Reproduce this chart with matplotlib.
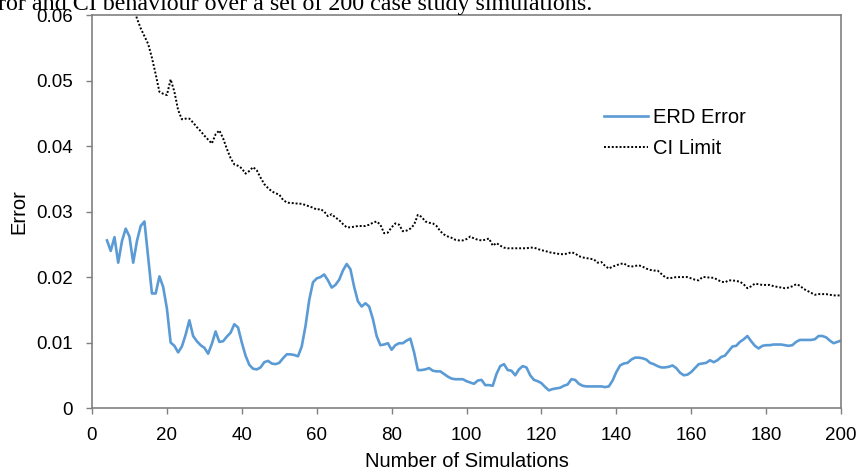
import numpy as np
import matplotlib
matplotlib.use("Agg")
import matplotlib.pyplot as plt

plt.rcParams['font.family'] = ['Liberation Sans', 'DejaVu Sans']

# ERD error, one value per simulation count starting at 4
erd_start = 4
erd_error = [
    0.0256, 0.0240, 0.0261, 0.0222, 0.0255, 0.0274,
    0.0262, 0.0222, 0.0255, 0.0278, 0.0285, 0.0230, 0.0175, 0.0175, 0.0201, 0.0185,
    0.0152, 0.0100, 0.0095, 0.0085, 0.0094, 0.0112, 0.0134, 0.0110, 0.0102, 0.0096,
    0.0092, 0.0083, 0.0098, 0.0117, 0.0101, 0.0102, 0.0109, 0.0115, 0.0128, 0.0123,
    0.0100, 0.0080, 0.0066, 0.0060, 0.0059, 0.0062, 0.0070, 0.0072, 0.0068, 0.0067,
    0.0069, 0.0076, 0.0082, 0.0082, 0.0081, 0.0079, 0.0094, 0.0125, 0.0165, 0.0192,
    0.0198, 0.0200, 0.0204, 0.0195, 0.0184, 0.0188, 0.0196, 0.0210, 0.0220, 0.0212,
    0.0185, 0.0163, 0.0155, 0.0160, 0.0155, 0.0136, 0.0110, 0.0096, 0.0097, 0.0099,
    0.0089, 0.0096, 0.0099, 0.0099, 0.0103, 0.0106, 0.0085, 0.0058, 0.0058, 0.0059,
    0.0061, 0.0057, 0.0056, 0.0056, 0.0052, 0.0048, 0.0045, 0.0044, 0.0044, 0.0044,
    0.0041, 0.0039, 0.0037, 0.0042, 0.0043, 0.0035, 0.0035, 0.0034, 0.0052, 0.0064,
    0.0067, 0.0058, 0.0057, 0.0050, 0.0059, 0.0064, 0.0062, 0.0050, 0.0043, 0.0041,
    0.0038, 0.0032, 0.0027, 0.0029, 0.0030, 0.0031, 0.0034, 0.0036, 0.0044, 0.0043,
    0.0037, 0.0034, 0.0033, 0.0033, 0.0033, 0.0033, 0.0033, 0.0032, 0.0033, 0.0042,
    0.0055, 0.0065, 0.0068, 0.0069, 0.0074, 0.0077, 0.0077, 0.0076, 0.0074, 0.0069,
    0.0067, 0.0064, 0.0062, 0.0062, 0.0063, 0.0065, 0.0061, 0.0054, 0.0050, 0.0051,
    0.0055, 0.0061, 0.0067, 0.0068, 0.0069, 0.0073, 0.0070, 0.0073, 0.0078, 0.0080,
    0.0087, 0.0094, 0.0095, 0.0101, 0.0105, 0.0110, 0.0102, 0.0095, 0.0091, 0.0095,
    0.0096, 0.0096, 0.0097, 0.0097, 0.0097, 0.0096, 0.0095, 0.0096, 0.0101, 0.0104,
    0.0104, 0.0104, 0.0104, 0.0105, 0.0110, 0.0110, 0.0108, 0.0103, 0.0099, 0.0101,
    0.0103,
]

# CI limit (values before ~12 run off the top of the axes)
ci_start = 11
ci_limit = [
    0.0615, 0.0595, 0.0580, 0.0568, 0.0556, 0.0535, 0.0510, 0.0483, 0.0480,
    0.0478, 0.0502, 0.0483, 0.0455, 0.0441, 0.0442, 0.0442, 0.0436, 0.0429, 0.0423,
    0.0416, 0.0410, 0.0404, 0.0418, 0.0424, 0.0412, 0.0396, 0.0382, 0.0372, 0.0370,
    0.0366, 0.0358, 0.0362, 0.0368, 0.0363, 0.0352, 0.0342, 0.0336, 0.0331, 0.0328,
    0.0326, 0.0318, 0.0314, 0.0313, 0.0313, 0.0312, 0.0312, 0.0310, 0.0308, 0.0306,
    0.0303, 0.0304, 0.0300, 0.0293, 0.0296, 0.0291, 0.0287, 0.0281, 0.0276, 0.0276,
    0.0277, 0.0278, 0.0278, 0.0278, 0.0280, 0.0283, 0.0285, 0.0280, 0.0267, 0.0268,
    0.0276, 0.0282, 0.0280, 0.0270, 0.0271, 0.0274, 0.0280, 0.0295, 0.0292, 0.0285,
    0.0283, 0.0282, 0.0278, 0.0270, 0.0265, 0.0262, 0.0260, 0.0257, 0.0256, 0.0256,
    0.0258, 0.0262, 0.0259, 0.0257, 0.0256, 0.0257, 0.0259, 0.0248, 0.0252, 0.0248,
    0.0245, 0.0244, 0.0244, 0.0244, 0.0244, 0.0244, 0.0244, 0.0245, 0.0245, 0.0243,
    0.0241, 0.0240, 0.0238, 0.0237, 0.0236, 0.0235, 0.0235, 0.0236, 0.0238, 0.0236,
    0.0232, 0.0230, 0.0229, 0.0228, 0.0227, 0.0222, 0.0223, 0.0217, 0.0213, 0.0216,
    0.0218, 0.0220, 0.0221, 0.0217, 0.0216, 0.0217, 0.0218, 0.0216, 0.0213, 0.0211,
    0.0210, 0.0210, 0.0205, 0.0200, 0.0198, 0.0199, 0.0200, 0.0200, 0.0200, 0.0200,
    0.0198, 0.0196, 0.0195, 0.0200, 0.0200, 0.0199, 0.0199, 0.0196, 0.0193, 0.0192,
    0.0195, 0.0195, 0.0194, 0.0193, 0.0189, 0.0183, 0.0186, 0.0190, 0.0189, 0.0188,
    0.0188, 0.0188, 0.0186, 0.0185, 0.0184, 0.0183, 0.0184, 0.0186, 0.0189, 0.0187,
    0.0182, 0.0179, 0.0176, 0.0173, 0.0174, 0.0174, 0.0174, 0.0173, 0.0172, 0.0172,
    0.0172,
]

x_ticks = [0, 20, 40, 60, 80, 100, 120, 140, 160, 180, 200]
y_ticks = [0, 0.01, 0.02, 0.03, 0.04, 0.05, 0.06]
y_tick_labels = ["0", "0.01", "0.02", "0.03", "0.04", "0.05", "0.06"]

erd_x = np.arange(erd_start, erd_start + len(erd_error))
ci_x = np.arange(ci_start, ci_start + len(ci_limit))

fig = plt.figure(figsize=(8.59, 4.75), dpi=100)
ax = fig.add_axes([0.1071, 0.141, 0.872, 0.827])

ax.plot(erd_x, erd_error, color="#5B9BD5", lw=1.9, label="ERD Error")
ax.plot(ci_x, ci_limit, color="black", lw=1.4, linestyle=(0, (1, 1.0)),
        label="CI Limit")

ax.set_xlim(0, 200)
ax.set_ylim(0, 0.06)
ax.set_xticks(x_ticks)
ax.set_yticks(y_ticks)
ax.set_yticklabels(y_tick_labels)
ax.tick_params(direction="out", length=4.5, width=1, color="#808080",
               labelsize=13.5)
ax.tick_params(axis="x", pad=9)
ax.tick_params(axis="y", pad=9)
for s in ax.spines.values():
    s.set_color("#808080")
    s.set_linewidth(1.2)

ax.set_xlabel("Number of Simulations", fontsize=14.5, labelpad=6)
ax.set_ylabel("Error", fontsize=14.5, labelpad=6)

ax.legend(loc="upper left", bbox_to_anchor=(0.66, 0.81), frameon=False,
          fontsize=14.5, handlelength=2.15, handletextpad=0.25,
          labelspacing=0.6)

# caption fragment cut off at the top of the screenshot
fig.text(-0.002, 0.979, "ror and CI behaviour over a set of 200 case study simulations.",
         family=["Liberation Serif"], fontsize=17.3, va="baseline", ha="left")

fig.savefig("out.png", dpi=100)
